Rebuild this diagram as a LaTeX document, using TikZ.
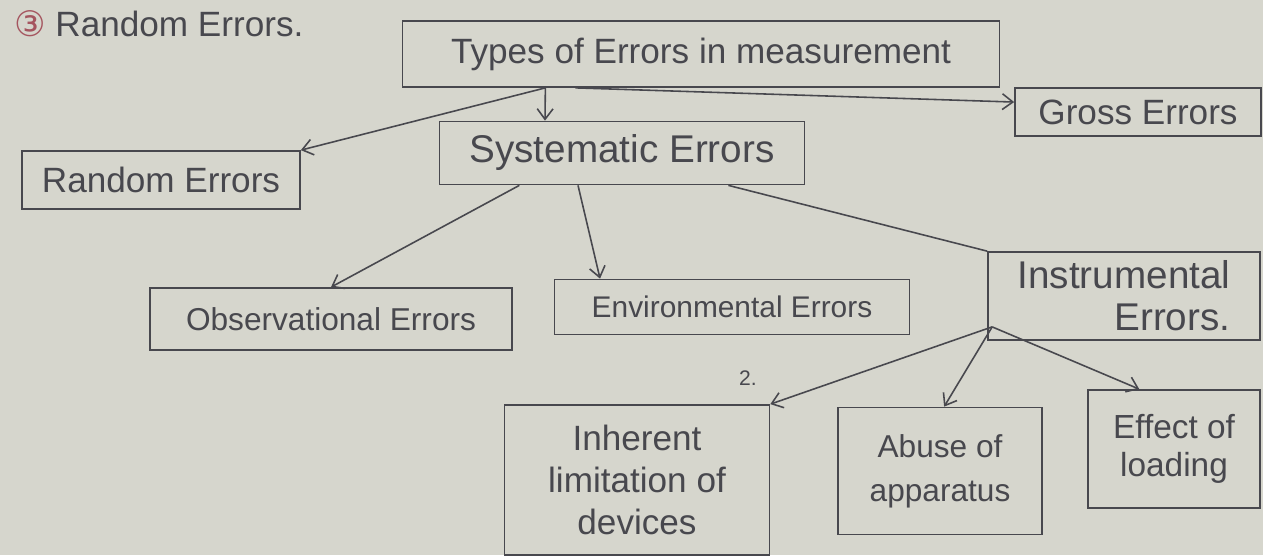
\documentclass[tikz,border=0pt]{standalone}
\usepackage{fontspec}
\setmainfont{Liberation Sans}
\newfontfamily\symfont{DejaVu Sans}
\usetikzlibrary{calc,arrows.meta}
\definecolor{paper}{RGB}{214,214,205}
\definecolor{ink}{RGB}{72,72,78}
\definecolor{redink}{RGB}{165,85,95}
\begin{document}
\begin{tikzpicture}[x=0.02cm,y=-0.02cm,
  box/.style={draw=ink, line width=1pt, inner sep=0pt, align=center, text=ink},
  arr/.style={draw=ink, line width=0.9pt, -{Straight Barb[length=6pt,width=9pt]}},
  plain/.style={draw=ink, line width=0.9pt}]
\fill[paper] (0,0) rectangle (1263,555);
\useasboundingbox (0,0) rectangle (1263,555);

\node[anchor=west, text=ink, font=\fontsize{20}{24}\selectfont] (title) at (8,24)
  {{\symfont\color{redink}③}\ Random Errors.};

\node[box, minimum width=11.94cm, minimum height=1.32cm, font=\fontsize{20}{24}\selectfont] (types) at (701,54) {Types of Errors in measurement};
\node[box, minimum width=4.92cm, minimum height=0.96cm, font=\fontsize{20}{24}\selectfont] (gross) at (1138,112) {Gross Errors};
\node[box, minimum width=5.56cm, minimum height=1.16cm, font=\fontsize{20}{24}\selectfont] (random) at (161,180) {Random Errors};
\node[box, minimum width=7.3cm, minimum height=1.26cm, font=\fontsize{22}{26}\selectfont] (sys) at (622,153) {Systematic Errors};
\node[box, minimum width=7.24cm, minimum height=1.24cm, font=\fontsize{18}{22}\selectfont] (obs) at (331,319) {Observational Errors};
\node[box, minimum width=7.1cm, minimum height=1.1cm, font=\fontsize{17}{21}\selectfont] (env) at (732,307) {Environmental Errors};
\node[box, minimum width=5.44cm, minimum height=1.76cm, align=right, font=\fontsize{22}{24}\selectfont] (instr) at (1124,296) {Instrumental\\Errors.};
\node[box, minimum width=5.3cm, minimum height=3.0cm, font=\fontsize{20}{24}\selectfont] (inher) at (637,480) {Inherent\\limitation of\\devices};
\node[box, minimum width=4.08cm, minimum height=2.54cm, font=\fontsize{18}{25}\selectfont] (abuse) at (940,471) {Abuse of\\apparatus};
\node[box, minimum width=3.44cm, minimum height=2.36cm, font=\fontsize{19}{22}\selectfont] (effect) at (1174,449) {Effect of\\loading};
\node[text=ink, font=\fontsize{12}{14}\selectfont] (two) at (748,378) {2.};

\draw[arr] ($(types.south west)!0.24!(types.south east)$) -- (random.north east);
\draw[arr] ($(types.south west)!0.24!(types.south east)$) -- ($(sys.north west)!0.29!(sys.north east)$);
\draw[arr] ($(types.south west)!0.29!(types.south east)$) -- ($(gross.north west)!0.3!(gross.south west)$);
\draw[arr] ($(sys.south west)!0.22!(sys.south east)$) -- (obs.north);
\draw[arr] ($(sys.south west)!0.38!(sys.south east)$) -- ($(env.north west)!0.13!(env.north east)$);
\draw[plain] ($(sys.south west)!0.79!(sys.south east)$) -- (instr.north west);
\coordinate (br) at ($(instr.south west)+(5,-14)$);
\draw[arr] (br) -- (inher.north east);
\draw[arr] (br) -- ($(abuse.north west)!0.52!(abuse.north east)$);
\draw[arr] (br) -- ($(effect.north west)!0.3!(effect.north east)$);
\end{tikzpicture}
\end{document}
